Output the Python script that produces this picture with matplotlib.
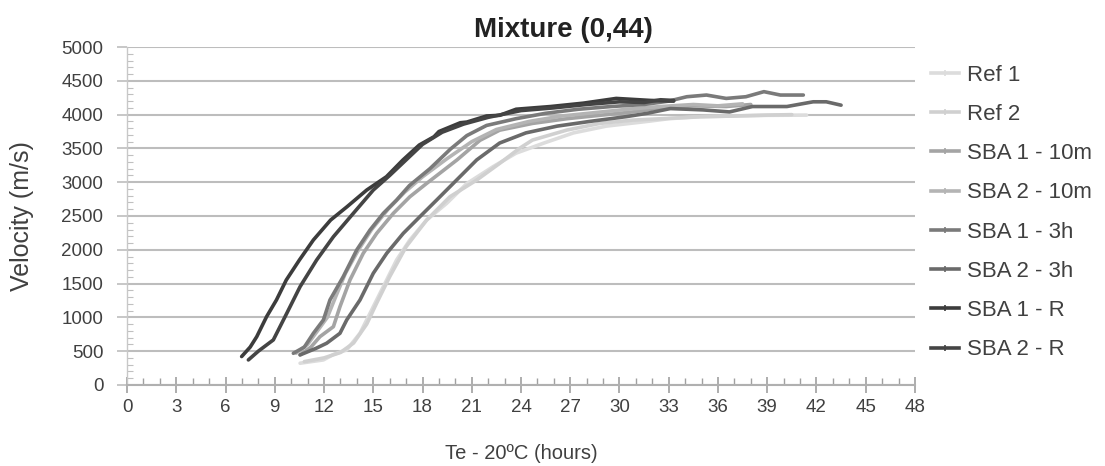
import matplotlib
matplotlib.use('Agg')
import matplotlib.pyplot as plt
from matplotlib.ticker import MultipleLocator
from matplotlib.lines import Line2D

# Series data (hours, m/s)
ref1_x = [10.54, 11.96, 12.57, 13.38, 14.19, 14.80, 15.61, 16.42, 17.23, 18.25, 19.47, 20.7,
          22.3, 23.7, 25.4, 27.2, 29.2, 31.7, 33.0, 35.0, 37.0, 39.0, 41.4]
ref1_y = [321, 370, 450, 518, 764, 1060, 1454, 1849, 2145, 2440, 2687, 2980,
          3230, 3430, 3580, 3730, 3830, 3900, 3940, 3970, 3980, 3990, 3993]
ref2_x = [10.8, 12.0, 13.0, 13.8, 14.6, 15.2, 16.0, 17.0, 18.25, 19.67, 21.3, 22.7,
          23.9, 24.7, 26.8, 28.8, 30.8, 32.9, 34.9, 36.9, 38.96, 40.5]
ref2_y = [345, 400, 480, 620, 900, 1208, 1602, 2045, 2440, 2785, 3032, 3279,
          3500, 3624, 3772, 3870, 3919, 3944, 3969, 3979, 3993, 4000]
sba1_10m_x = [10.54, 11.2, 11.75, 12.57, 12.97, 13.58, 14.39, 15.21, 16.22, 17.23, 18.25, 20.1,
              21.5, 22.7, 24.7, 26.8, 28.8, 30.8, 32.5, 34.5, 36.5, 38.0]
sba1_10m_y = [444, 560, 714, 862, 1158, 1553, 1948, 2244, 2539, 2785, 2982, 3330,
              3620, 3770, 3870, 3940, 3990, 4040, 4100, 4130, 4120, 4150]
sba2_10m_x = [10.3, 11.0, 11.6, 12.2, 12.7, 13.3, 14.1, 14.9, 15.9, 16.9, 18.0, 19.5,
              21.0, 22.5, 24.5, 26.5, 28.5, 30.5, 32.5, 34.5, 36.0, 37.5]
sba2_10m_y = [470, 600, 800, 1000, 1300, 1650, 2000, 2300, 2600, 2850, 3080, 3350,
              3600, 3780, 3900, 3980, 4030, 4080, 4120, 4150, 4130, 4160]
sba1_3h_x = [10.13, 10.8, 11.35, 11.96, 12.36, 13.17, 13.99, 14.80, 15.61, 16.42, 17.2, 18.45,
             19.7, 20.7, 21.9, 23.7, 25.5, 27.5, 29.5, 31.5, 33.0, 34.1, 35.3, 36.5,
             37.7, 38.8, 39.8, 41.2]
sba1_3h_y = [468, 560, 764, 961, 1257, 1602, 1997, 2292, 2539, 2736, 2950, 3200,
             3490, 3690, 3840, 3940, 4020, 4080, 4120, 4150, 4200, 4265, 4290, 4240,
             4265, 4340, 4290, 4290]
sba2_3h_x = [10.54, 11.5, 12.16, 12.97, 13.38, 14.19, 15.0, 15.82, 16.83, 17.84, 18.86, 19.87,
             21.3, 22.7, 24.3, 26.2, 28.2, 30.4, 31.7, 33.1, 35.1, 36.7, 38.1, 40.2,
             41.8, 42.6, 43.5]
sba2_3h_y = [444, 540, 617, 764, 961, 1257, 1652, 1948, 2244, 2490, 2736, 2982,
             3330, 3580, 3730, 3830, 3900, 3970, 4020, 4090, 4070, 4040, 4120, 4120,
             4190, 4190, 4140]
sba1_r_x = [6.98, 7.5, 7.9, 8.5, 9.1, 9.7, 10.5, 11.35, 12.4, 13.4, 14.6, 15.8, 16.8, 17.8,
            18.7, 19.0, 20.3, 20.7, 21.9, 22.7, 23.7, 25.8, 27.8, 29.8, 31.9, 33.3]
sba1_r_y = [420, 560, 714, 1010, 1257, 1553, 1849, 2145, 2440, 2637, 2884, 3081, 3328, 3550,
            3673, 3750, 3880, 3890, 3980, 3990, 4080, 4120, 4170, 4240, 4210, 4200]
sba2_r_x = [7.39, 8.0, 8.91, 9.73, 10.54, 11.55, 12.57, 13.78, 15.0, 16.0, 17.0, 18.0,
            19.2, 20.5, 22.0, 24.0, 26.0, 28.0, 30.0, 31.5, 32.5, 33.3]
sba2_r_y = [370, 500, 666, 1060, 1454, 1849, 2193, 2538, 2884, 3100, 3330, 3560,
            3740, 3860, 3960, 4060, 4100, 4150, 4190, 4180, 4220, 4210]

labels = ['Ref 1', 'Ref 2', 'SBA 1 - 10m', 'SBA 2 - 10m',
          'SBA 1 - 3h', 'SBA 2 - 3h', 'SBA 1 - R', 'SBA 2 - R']
series = [(ref1_x, ref1_y), (ref2_x, ref2_y), (sba1_10m_x, sba1_10m_y), (sba2_10m_x, sba2_10m_y),
          (sba1_3h_x, sba1_3h_y), (sba2_3h_x, sba2_3h_y), (sba1_r_x, sba1_r_y), (sba2_r_x, sba2_r_y)]
colors = ['#dcdcdc', '#d0d0d0', '#a4a4a4', '#b4b4b4', '#7a7a7a', '#6a6a6a', '#3c3c3c', '#444444']

plt.rcParams['font.family'] = ['Liberation Sans', 'DejaVu Sans']

fig = plt.figure(figsize=(11.05, 4.66), dpi=100)
ax = fig.add_axes([0.115, 0.174, 0.713, 0.725])

for (x, y), c, lab in zip(series, colors, labels):
    ax.plot(x, y, color=c, lw=2.6, solid_capstyle='round', label=lab)

ax.set_xlim(0, 48)
ax.set_ylim(0, 5000)
ax.xaxis.set_major_locator(MultipleLocator(3))
ax.xaxis.set_minor_locator(MultipleLocator(1))
ax.yaxis.set_major_locator(MultipleLocator(500))
ax.yaxis.set_minor_locator(MultipleLocator(100))
ax.grid(axis='y', color='#bdbdbd', lw=1.5)
ax.set_axisbelow(True)

for s in ['top', 'right']:
    ax.spines[s].set_visible(False)
ax.spines['bottom'].set_color('#b0b0b0')
ax.spines['bottom'].set_linewidth(1.5)
ax.spines['left'].set_color('#c8c8c8')
ax.spines['left'].set_linewidth(1.0)

ax.tick_params(axis='x', which='major', length=12, width=1.2, color='#a0a0a0', direction='inout',
               labelsize=13.5, labelcolor='#404040', pad=4)
ax.tick_params(axis='x', which='minor', length=5, width=1.0, color='#a0a0a0', direction='in')
ax.tick_params(axis='y', which='major', length=7, width=1.2, color='#bdbdbd', direction='out',
               labelsize=13.5, labelcolor='#404040', pad=10)
ax.tick_params(axis='y', which='minor', length=4, width=0.8, color='#c0c0c0', direction='in')

ax.set_xlabel('Te - 20ºC (hours)', fontsize=14.5, color='#404040', labelpad=20)
ax.set_ylabel('Velocity (m/s)', fontsize=18, color='#404040', labelpad=20)
fig.text(0.51, 0.935, 'Mixture (0,44)', fontsize=20, fontweight='bold', color='#222222',
         ha='center', va='center')

handles = [Line2D([0], [0], color=c, lw=2.6, marker='+', markersize=4, markeredgewidth=1.2)
           for c in colors]
leg = fig.legend(handles, labels, loc='upper left', bbox_to_anchor=(0.824, 0.904),
                 frameon=False, fontsize=16, handlelength=1.3, handletextpad=0.35,
                 labelspacing=0.82, labelcolor='#404040')

fig.savefig('out.png', dpi=100)
